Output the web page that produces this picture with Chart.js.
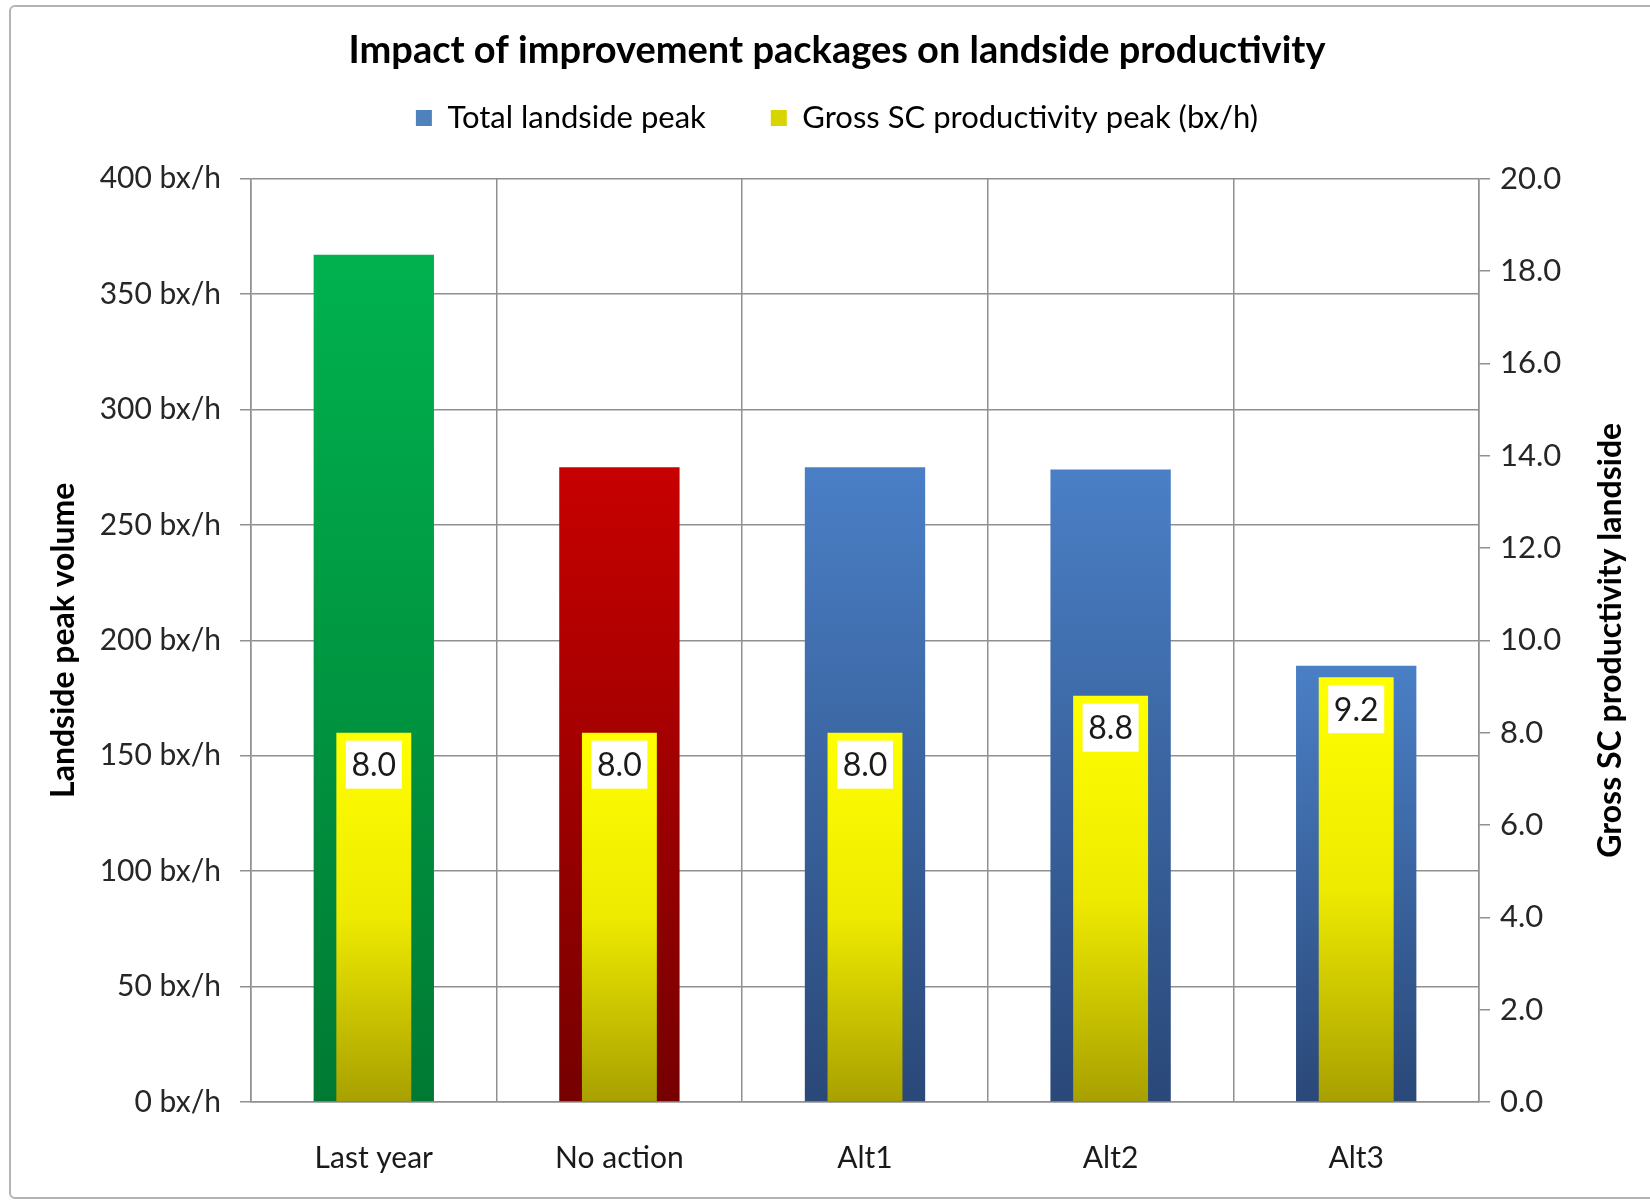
<!DOCTYPE html>
<html>
<head>
<meta charset="utf-8">
<title>Landside productivity</title>
<script src="https://cdn.jsdelivr.net/npm/chart.js@4.4.1/dist/chart.umd.min.js"></script>
<style>
  html, body { margin: 0; padding: 0; background: #fff; }
  #wrap { position: relative; width: 1650px; height: 1201px; overflow: hidden; }
  #frame { position: absolute; left: 9px; top: 5px; width: 1700px; height: 1190px; border: 2px solid #b4b4b4; border-radius: 6px; }
  #chart { position: absolute; left: 0; top: 0; }
</style>
</head>
<body>
<div id="wrap">
  <div id="frame"></div>
  <canvas id="chart" width="1650" height="1201"></canvas>
</div>
<script>
// categories and series
const categories = ['Last year', 'No action', 'Alt1', 'Alt2', 'Alt3'];
const landsidePeak = [367, 275, 275, 274, 189];      // bx/h, left axis
const scProductivity = [8.0, 8.0, 8.0, 8.8, 9.2];    // right axis

// gradient stops per bar (top -> bottom)
const peakColors = [
  ['#00B24F', '#007A33'],
  ['#C80000', '#760000'],
  ['#4A7FC6', '#2A4878'],
  ['#4A7FC6', '#2A4878'],
  ['#4A7FC6', '#2A4878']
];
const prodColors = ['#FFFF00', '#EEEA00', '#A8A000'];
const legendColors = ['#4F81BD', '#D8D400'];

const FONT = 'Lato, "Open Sans", sans-serif';
const GRID = '#909090';

function barGradient(ctx, stops) {
  const chart = ctx.chart;
  if (!chart.chartArea || ctx.dataIndex === undefined) return stops[0];
  const scale = chart.scales[ctx.dataset.yAxisID];
  const top = scale.getPixelForValue(ctx.raw);
  const bottom = scale.getPixelForValue(0);
  const g = chart.ctx.createLinearGradient(0, top, 0, bottom);
  stops.forEach((c, i) => g.addColorStop(i / (stops.length - 1), c));
  return g;
}

// white value boxes near the top of each productivity bar
const valueBoxes = {
  id: 'valueBoxes',
  afterDatasetsDraw(chart) {
    const meta = chart.getDatasetMeta(1);
    const ctx = chart.ctx;
    ctx.save();
    ctx.font = '32px ' + FONT;
    ctx.textAlign = 'center';
    ctx.textBaseline = 'middle';
    meta.data.forEach((bar, i) => {
      const top = bar.y + 8;
      ctx.fillStyle = '#ffffff';
      ctx.fillRect(bar.x - 28, top, 56, 48);
      ctx.fillStyle = '#1a1a1a';
      ctx.fillText(scProductivity[i].toFixed(1), bar.x, top + 25);
    });
    ctx.restore();
  }
};

// right axis title reads bottom-to-top
const rightTitle = {
  id: 'rightTitle',
  afterDraw(chart) {
    const s = chart.scales.y1;
    const area = chart.chartArea;
    const ctx = chart.ctx;
    ctx.save();
    ctx.translate(s.right - 39, (area.top + area.bottom) / 2);
    ctx.rotate(-Math.PI / 2);
    ctx.font = 'bold 32px ' + FONT;
    ctx.fillStyle = '#000';
    ctx.textAlign = 'center';
    ctx.textBaseline = 'middle';
    ctx.fillText('Gross SC productivity landside', 0, 0);
    ctx.restore();
  }
};

new Chart(document.getElementById('chart'), {
  type: 'bar',
  data: {
    labels: categories,
    datasets: [
      {
        label: 'Total landside peak',
        data: landsidePeak,
        yAxisID: 'y',
        order: 2,
        grouped: false,
        barPercentage: 0.49,
        categoryPercentage: 1,
        backgroundColor: (c) => barGradient(c, peakColors[c.dataIndex] || peakColors[2])
      },
      {
        label: 'Gross SC productivity peak (bx/h)',
        data: scProductivity,
        yAxisID: 'y1',
        order: 1,
        grouped: false,
        barPercentage: 0.305,
        categoryPercentage: 1,
        backgroundColor: (c) => barGradient(c, prodColors)
      }
    ]
  },
  options: {
    responsive: false,
    animation: false,
    devicePixelRatio: 1,
    layout: { padding: { left: 24, right: 0, top: 0, bottom: 0 } },
    plugins: {
      title: {
        display: true,
        text: 'Impact of improvement packages on landside productivity',
        color: '#000',
        font: { family: FONT, size: 38, weight: 'bold' },
        padding: { top: 28, bottom: -36 }
      },
      legend: {
        display: true,
        labels: {
          color: '#1a1a1a',
          font: { family: FONT, size: 31 },
          boxWidth: 16,
          boxHeight: 16,
          padding: 65,
          generateLabels: (chart) => chart.data.datasets.map((ds, i) => ({
            text: ds.label,
            fillStyle: legendColors[i],
            strokeStyle: legendColors[i],
            lineWidth: 0,
            hidden: false,
            datasetIndex: i
          }))
        }
      },
      // blank spacer between the legend and the plot
      subtitle: {
        display: true,
        text: '',
        weight: 500,
        font: { size: 10 },
        padding: { top: 23, bottom: 0 }
      },
      tooltip: { enabled: false }
    },
    scales: {
      x: {
        offset: true,
        grid: { color: GRID, lineWidth: 1.5, offset: true, drawTicks: false },
        border: { color: GRID, width: 1.5 },
        ticks: { color: '#1a1a1a', font: { family: FONT, size: 30 }, padding: 38 },
        afterFit: (s) => { s.height = 99; }
      },
      y: {
        position: 'left',
        min: 0,
        max: 400,
        ticks: {
          stepSize: 50,
          color: '#262626',
          font: { family: FONT, size: 30 },
          padding: 19,
          callback: (v) => v + ' bx/h'
        },
        grid: { color: GRID, lineWidth: 1.5, tickLength: 11 },
        border: { color: GRID, width: 1.5 },
        title: {
          display: true,
          text: 'Landside peak volume',
          color: '#000',
          font: { family: FONT, size: 32, weight: 'bold' },
          padding: { top: 20, bottom: 0 }
        },
        afterFit: (s) => { s.width = 227; }
      },
      y1: {
        position: 'right',
        min: 0,
        max: 20,
        ticks: {
          stepSize: 2,
          color: '#262626',
          font: { family: FONT, size: 31 },
          padding: 10,
          callback: (v) => v.toFixed(1)
        },
        grid: { drawOnChartArea: false, color: GRID, lineWidth: 1.5, tickLength: 11 },
        border: { color: GRID, width: 1.5 },
        afterFit: (s) => { s.width = 171; }
      }
    }
  },
  plugins: [valueBoxes, rightTitle]
});
</script>
</body>
</html>
